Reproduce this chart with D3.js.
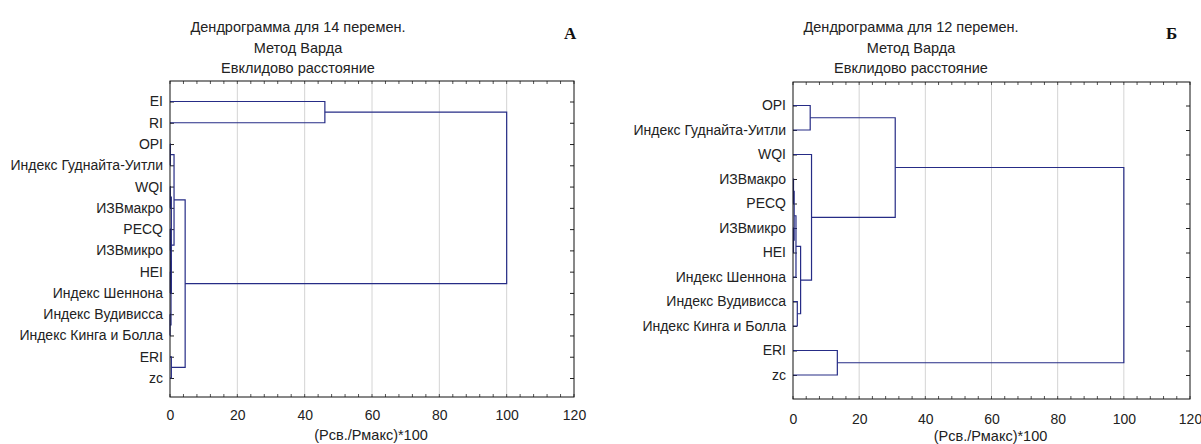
<!DOCTYPE html>
<html>
<head>
<meta charset="utf-8">
<script src="https://cdnjs.cloudflare.com/ajax/libs/d3/7.8.5/d3.min.js"></script>
<style>
  body { margin: 0; background: #fff; }
  svg { display: block; font-family: "Liberation Sans", Arial, sans-serif; }
  .title { font-size: 14.5px; fill: #222; text-anchor: middle; }
  .letter { font-family: "Liberation Serif", "Times New Roman", serif; font-size: 17px; font-weight: bold; fill: #111; }
</style>
</head>
<body>
<div id="chart"></div>
<script>
var svgWidth = 1201;
var svgHeight = 444;

// Panel A: 14 variables
var leavesA = ["EI", "RI", "OPI", "Индекс Гуднайта-Уитли", "WQI", "ИЗВмакро", "PECQ",
  "ИЗВмикро", "HEI", "Индекс Шеннона", "Индекс Вудивисса", "Индекс Кинга и Болла", "ERI", "zc"];
// [child1, child2, linkage distance]; index >= n refers to an earlier merge
var mergesA = [
  [4, 5, 0.1],
  [6, 7, 0.1],
  [8, 9, 0.1],
  [10, 11, 0.02],
  [15, 16, 0.2],
  [18, 17, 0.3],
  [14, 19, 0.4],
  [2, 3, 0.1],
  [21, 20, 1.2],
  [12, 13, 0.4],
  [22, 23, 4.5],
  [0, 1, 46],
  [25, 24, 100]
];

// Panel B: 12 variables
var leavesB = ["OPI", "Индекс Гуднайта-Уитли", "WQI", "ИЗВмакро", "PECQ", "ИЗВмикро",
  "HEI", "Индекс Шеннона", "Индекс Вудивисса", "Индекс Кинга и Болла", "ERI", "zc"];
var mergesB = [
  [3, 4, 0.15],
  [5, 6, 0.15],
  [12, 13, 0.35],
  [14, 7, 0.9],
  [8, 9, 1.3],
  [15, 16, 2.3],
  [2, 17, 5.6],
  [0, 1, 5.2],
  [19, 18, 30.9],
  [10, 11, 13.4],
  [20, 21, 100]
];

var xTicks = [0, 20, 40, 60, 80, 100, 120];
var titleLines = ["Метод Варда", "Евклидово расстояние"];
var axisTitle = "(Рсв./Рмакс)*100";

var svg = d3.select("#chart")
  .append("svg")
  .attr("width", svgWidth)
  .attr("height", svgHeight);

function drawPanel(opt) {
  var g = svg.append("g");
  var n = opt.leaves.length;

  var x = d3.scaleLinear().domain([0, 120]).range([opt.left, opt.right]);
  var y = d3.scalePoint().domain(d3.range(n)).range([opt.firstRow, opt.lastRow]);

  // gridlines
  g.selectAll("line.grid")
    .data(xTicks.slice(1, -1))
    .enter()
    .append("line")
    .attr("x1", d => x(d)).attr("x2", d => x(d))
    .attr("y1", opt.top).attr("y2", opt.bottom)
    .attr("stroke", "#d4d4d4")
    .attr("stroke-width", 1);

  // bottom axis
  var bottomAxis = d3.axisBottom(x)
    .tickValues(xTicks)
    .tickSize(0)
    .tickPadding(opt.labelPad);
  var bx = g.append("g")
    .attr("transform", `translate(0, ${opt.bottom})`)
    .call(bottomAxis);
  bx.select(".domain").remove();
  bx.selectAll("text").style("font-size", "14px").attr("fill", "#222");

  // minor ticks top/bottom (inward)
  var minor = d3.range(0, 121, 4);
  g.selectAll("line.minb")
    .data(minor)
    .enter()
    .append("line")
    .attr("x1", d => x(d)).attr("x2", d => x(d))
    .attr("y1", opt.bottom).attr("y2", opt.bottom - 3)
    .attr("stroke", "#555");
  g.selectAll("line.mint")
    .data(minor)
    .enter()
    .append("line")
    .attr("x1", d => x(d)).attr("x2", d => x(d))
    .attr("y1", opt.top).attr("y2", opt.top + 3)
    .attr("stroke", "#555");

  // left axis with labels
  var leftAxis = d3.axisLeft(y)
    .tickSizeInner(-4)
    .tickSizeOuter(0)
    .tickPadding(7)
    .tickFormat(i => opt.leaves[i]);
  var lx = g.append("g")
    .attr("transform", `translate(${opt.left}, 0)`)
    .call(leftAxis);
  lx.select(".domain").remove();
  lx.selectAll("text").style("font-size", "14px").attr("fill", "#222");
  lx.selectAll("line").attr("stroke", "#222");

  // right ticks
  var rightAxis = d3.axisRight(y).tickSizeInner(-4).tickSizeOuter(0).tickFormat("");
  var rx = g.append("g")
    .attr("transform", `translate(${opt.right}, 0)`)
    .call(rightAxis);
  rx.select(".domain").remove();
  rx.selectAll("line").attr("stroke", "#222");

  // dendrogram
  var nodes = opt.leaves.map((d, i) => ({ y: y(i), h: 0 }));
  opt.merges.forEach(function(m) {
    var a = nodes[m[0]], b = nodes[m[1]];
    var path = d3.path();
    path.moveTo(x(a.h), a.y);
    path.lineTo(x(m[2]), a.y);
    path.lineTo(x(m[2]), b.y);
    path.lineTo(x(b.h), b.y);
    g.append("path")
      .attr("d", path.toString())
      .attr("fill", "none")
      .attr("stroke", "#262c86")
      .attr("stroke-width", 1.2);
    nodes.push({ y: (a.y + b.y) / 2, h: m[2] });
  });

  // frame
  g.append("rect")
    .attr("x", opt.left).attr("y", opt.top)
    .attr("width", opt.right - opt.left)
    .attr("height", opt.bottom - opt.top)
    .attr("fill", "none")
    .attr("stroke", "#111")
    .attr("stroke-width", 1);

  // titles
  var tx = opt.titleX;
  g.append("text").attr("class", "title").attr("x", tx).attr("y", 32).text(opt.title);
  g.append("text").attr("class", "title").attr("x", tx).attr("y", 53).text(titleLines[0]);
  g.append("text").attr("class", "title").attr("x", tx).attr("y", 73).text(titleLines[1]);
  g.append("text").attr("class", "letter").attr("x", opt.letterX).attr("y", 39).text(opt.letter);

  g.append("text")
    .attr("class", "title")
    .attr("x", (opt.left + opt.right) / 2 - 1)
    .attr("y", opt.axisTitleY)
    .text(axisTitle);
}

drawPanel({
  leaves: leavesA, merges: mergesA,
  left: 170, right: 574, top: 81, bottom: 397,
  firstRow: 101.5, lastRow: 378,
  labelPad: 13, axisTitleY: 440,
  title: "Дендрограмма для 14  перемен.", titleX: 298,
  letter: "А", letterX: 564
});

drawPanel({
  leaves: leavesB, merges: mergesB,
  left: 793, right: 1190, top: 82, bottom: 399,
  firstRow: 105.5, lastRow: 375,
  labelPad: 15, axisTitleY: 441,
  title: "Дендрограмма для 12  перемен.", titleX: 911,
  letter: "Б", letterX: 1166
});
</script>
</body>
</html>
